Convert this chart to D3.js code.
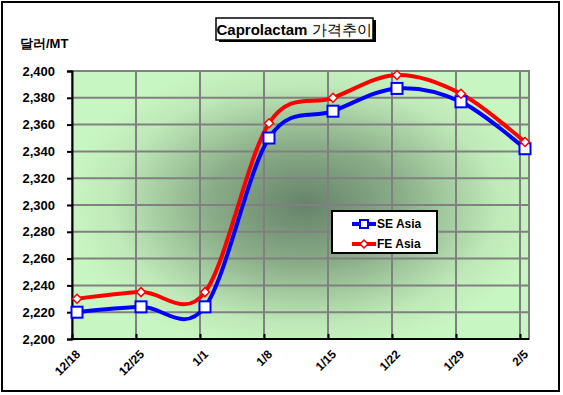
<!DOCTYPE html>
<html>
<head>
<meta charset="utf-8">
<script src="https://cdn.jsdelivr.net/npm/d3@7"></script>
<style>
  body { margin: 0; background: #fff; }
  svg text { font-family: Arial, "Liberation Sans", sans-serif; }
</style>
</head>
<body>
<svg id="vis-svg"></svg>
<script>
// chart data
var dates = ["12/18", "12/25", "1/1", "1/8", "1/15", "1/22", "1/29", "2/5"];
var seAsia = [2220, 2224, 2224, 2350, 2370, 2387, 2377, 2342];
var feAsia = [2230, 2235, 2235, 2361, 2380, 2397, 2383, 2347];
var yTicks = [2200, 2220, 2240, 2260, 2280, 2300, 2320, 2340, 2360, 2380, 2400];

var width = 563;
var height = 395;

var svg = d3.select('#vis-svg')
  .attr('width', width)
  .attr('height', height);

// outer frame
svg.append('rect')
  .attr('x', 2).attr('y', 2)
  .attr('width', 557).attr('height', 389)
  .attr('fill', '#fff')
  .attr('stroke', '#000')
  .attr('stroke-width', 2);

// scales
var xScale = d3.scaleLinear()
  .domain([0, dates.length - 1])
  .range([77, 525]);
var yScale = d3.scaleLinear()
  .domain([2200, 2400])
  .range([339, 71]);

var step = xScale(1) - xScale(0);
var plotLeft = xScale(0) - 5;
var plotRight = xScale(dates.length - 1) + 4;
var plotTop = yScale(2400);
var plotBottom = yScale(2200);

// plot background gradient
var defs = svg.append('defs');
var grad = defs.append('radialGradient')
  .attr('id', 'bg')
  .attr('gradientUnits', 'userSpaceOnUse')
  .attr('cx', 305).attr('cy', 205).attr('r', 150)
  .attr('gradientTransform', 'translate(305,205) scale(1.6,1) translate(-305,-205)');
grad.append('stop').attr('offset', 0).attr('stop-color', '#66836a');
grad.append('stop').attr('offset', 0.4).attr('stop-color', '#8aad88');
grad.append('stop').attr('offset', 0.8).attr('stop-color', '#bfe9b8');
grad.append('stop').attr('offset', 1).attr('stop-color', '#c8f6c2');

svg.append('rect')
  .attr('x', plotLeft).attr('y', plotTop)
  .attr('width', plotRight - plotLeft)
  .attr('height', plotBottom - plotTop)
  .attr('fill', 'url(#bg)')
  .attr('stroke', '#808080')
  .attr('stroke-width', 2);

// gridlines
var grid = svg.append('g').attr('class', 'grid');
grid.selectAll('line.h')
  .data(yTicks.slice(1, -1))
  .enter()
  .append('line')
  .attr('x1', plotLeft).attr('x2', plotRight)
  .attr('y1', function(d){return yScale(d);})
  .attr('y2', function(d){return yScale(d);})
  .attr('stroke', '#808080')
  .attr('stroke-width', 2);
grid.selectAll('line.v')
  .data(d3.range(1, dates.length))
  .enter()
  .append('line')
  .attr('x1', function(i){return plotLeft + step * i;})
  .attr('x2', function(i){return plotLeft + step * i;})
  .attr('y1', plotTop).attr('y2', plotBottom)
  .attr('stroke', '#808080')
  .attr('stroke-width', 2);

// axes
var yAxis = svg.append('g')
  .attr('transform', `translate(${plotLeft},0)`)
  .call(d3.axisLeft(yScale).tickValues(yTicks).tickSize(5).tickFormat(d3.format(',')));
yAxis.select('.domain').attr('stroke', '#000').attr('stroke-width', 2);
yAxis.selectAll('.tick line').attr('stroke', '#000').attr('stroke-width', 2);
yAxis.selectAll('text')
  .attr('x', -17)
  .attr('font-size', 13)
  .attr('font-weight', 'bold')
  .attr('fill', '#000');

var xAxis = svg.append('g')
  .attr('transform', `translate(0,${plotBottom})`)
  .call(d3.axisBottom(d3.scaleLinear().domain([0, 7]).range([plotLeft, plotLeft + step * 7]))
    .tickValues(d3.range(0, 8)).tickSize(-5).tickFormat(''));
xAxis.select('.domain').remove();
xAxis.append('line')
  .attr('x1', plotLeft - 1).attr('x2', plotRight)
  .attr('stroke', '#000').attr('stroke-width', 2);
xAxis.selectAll('.tick line').attr('stroke', '#000').attr('stroke-width', 2);

svg.append('g').selectAll('text')
  .data(dates)
  .enter()
  .append('text')
  .attr('transform', function(d, i){
    return `translate(${xScale(i) + 4},${plotBottom + 16}) rotate(-45)`;
  })
  .attr('text-anchor', 'end')
  .attr('font-size', 12)
  .attr('font-weight', 'bold')
  .text(function(d){return d;});

// unit label
svg.append('text')
  .attr('x', 20).attr('y', 48)
  .attr('font-size', 13)
  .attr('font-weight', 'bold')
  .text('달러/MT');

// lines
var line = d3.line()
  .x(function(d, i){return xScale(i);})
  .y(function(d){return yScale(d);})
  .curve(d3.curveCardinal.tension(0));

svg.append('path')
  .datum(seAsia)
  .attr('d', line)
  .attr('fill', 'none')
  .attr('stroke', '#0000ff')
  .attr('stroke-width', 4);
svg.append('path')
  .datum(feAsia)
  .attr('d', line)
  .attr('fill', 'none')
  .attr('stroke', '#ff0000')
  .attr('stroke-width', 4);

// markers
svg.append('g').selectAll('rect')
  .data(seAsia)
  .enter()
  .append('rect')
  .attr('x', function(d, i){return xScale(i) - 5.5;})
  .attr('y', function(d){return yScale(d) - 5.5;})
  .attr('width', 11).attr('height', 11)
  .attr('fill', '#fff')
  .attr('stroke', '#0000ff')
  .attr('stroke-width', 2);
svg.append('g').selectAll('path')
  .data(feAsia)
  .enter()
  .append('path')
  .attr('d', function(d, i){
    var x = xScale(i), y = yScale(d);
    return `M${x},${y-4.5}L${x+4.5},${y}L${x},${y+4.5}L${x-4.5},${y}Z`;
  })
  .attr('fill', '#fff')
  .attr('stroke', '#ff0000')
  .attr('stroke-width', 1.5);

// title box
svg.append('rect')
  .attr('x', 219).attr('y', 20)
  .attr('width', 157).attr('height', 22)
  .attr('fill', '#000');
svg.append('rect')
  .attr('x', 216).attr('y', 18)
  .attr('width', 157).attr('height', 22)
  .attr('fill', '#fff')
  .attr('stroke', '#000')
  .attr('stroke-width', 1.5);
var title = svg.append('text')
  .attr('x', 294).attr('y', 35)
  .attr('text-anchor', 'middle')
  .attr('font-size', 15);
title.append('tspan').attr('font-weight', 'bold').text('Caprolactam ');
title.append('tspan').text('가격추이');

// legend
var legend = svg.append('g').attr('transform', 'translate(332,211)');
legend.append('rect')
  .attr('width', 105).attr('height', 42)
  .attr('fill', '#fff')
  .attr('stroke', '#000')
  .attr('stroke-width', 2);
legend.append('line')
  .attr('x1', 20).attr('x2', 44).attr('y1', 13).attr('y2', 13)
  .attr('stroke', '#0000ff').attr('stroke-width', 4);
legend.append('rect')
  .attr('x', 28).attr('y', 9).attr('width', 8).attr('height', 8)
  .attr('fill', '#fff').attr('stroke', '#0000ff').attr('stroke-width', 2);
legend.append('line')
  .attr('x1', 20).attr('x2', 44).attr('y1', 33).attr('y2', 33)
  .attr('stroke', '#ff0000').attr('stroke-width', 4);
legend.append('path')
  .attr('d', 'M32,29L36,33L32,37L28,33Z')
  .attr('fill', '#fff').attr('stroke', '#ff0000').attr('stroke-width', 1.5);
legend.append('text')
  .attr('x', 45).attr('y', 17)
  .attr('font-size', 12).attr('font-weight', 'bold')
  .text('SE Asia');
legend.append('text')
  .attr('x', 45).attr('y', 37)
  .attr('font-size', 12).attr('font-weight', 'bold')
  .text('FE Asia');
</script>
</body>
</html>
